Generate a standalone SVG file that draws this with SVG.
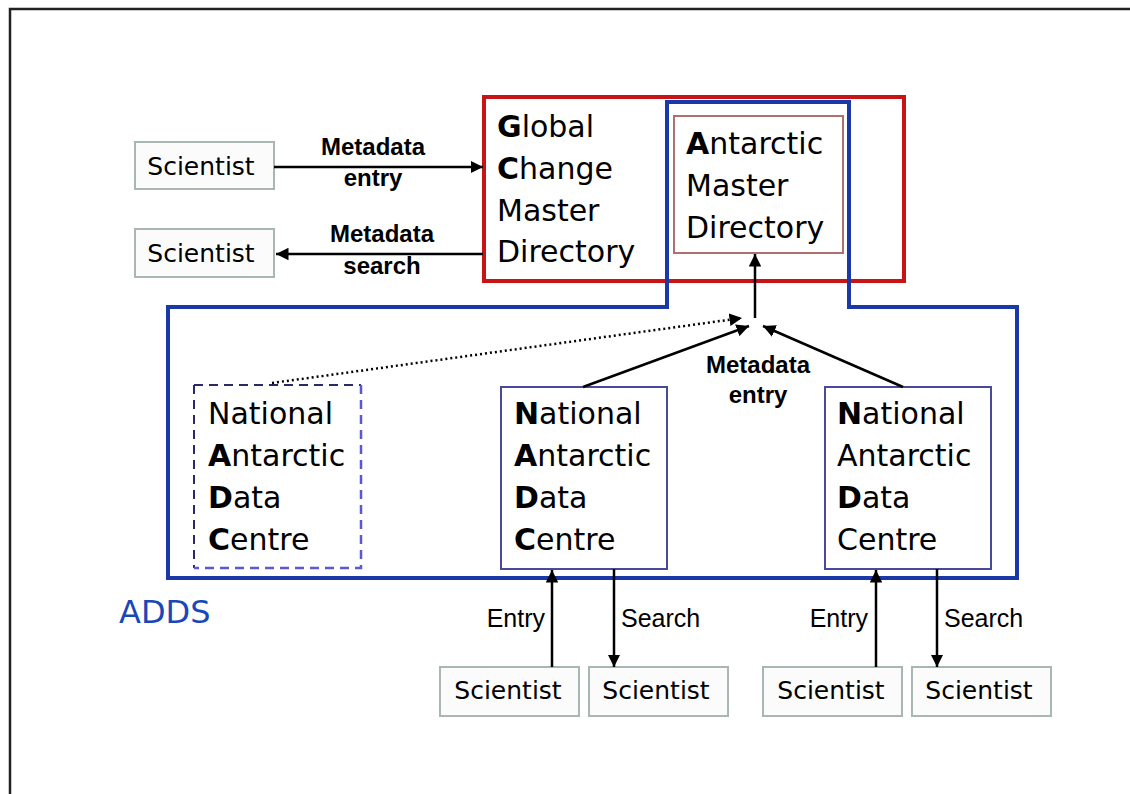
<svg xmlns="http://www.w3.org/2000/svg" width="1130" height="794" viewBox="0 0 1130 794">
<style>
.big{font-family:"DejaVu Sans","Liberation Sans",sans-serif;font-size:30px;fill:#000}
.sci{font-family:"DejaVu Sans","Liberation Sans",sans-serif;font-size:25px;fill:#000;text-anchor:middle}
.lab{font-family:"Liberation Sans",Arial,sans-serif;font-size:24px;font-weight:bold;fill:#000;text-anchor:middle}
.lab2{font-family:"Liberation Sans",Arial,sans-serif;font-size:25px;fill:#000}
.sbox{fill:#fbfbfb;stroke:#a8b8b0;stroke-width:2}
.nadc{fill:#fff;stroke:#4a4a9a;stroke-width:2}
.ln{stroke:#000;stroke-width:2.5;fill:none}
</style>
<defs>
<marker id="ah" viewBox="0 0 10 10" refX="10" refY="5" markerWidth="5" markerHeight="5" orient="auto" markerUnits="strokeWidth">
<path d="M0,0 L10,5 L0,10 z" fill="#000"/>
</marker>
</defs>
<rect width="1130" height="794" fill="#fff"/>
<rect x="10" y="9" width="1140" height="800" fill="none" stroke="#222" stroke-width="2.5"/>

<g id="gcmd">
<rect x="484" y="97" width="420" height="184" fill="none" stroke="#c81414" stroke-width="4"/>
<text class="big" x="497" y="137"><tspan font-weight="bold">G</tspan>lobal</text>
<text class="big" x="497" y="179"><tspan font-weight="bold">C</tspan>hange</text>
<text class="big" x="497" y="221">Master</text>
<text class="big" x="497" y="262">Directory</text>
</g>

<g id="adds">
<path d="M667,102 H849 V307 H1017 V578 H168 V307 H667 Z" fill="none" stroke="#1a38a6" stroke-width="4"/>
<text x="119" y="623" font-family="DejaVu Sans, Liberation Sans, sans-serif" font-size="32" fill="#1848b8">ADDS</text>
</g>

<g id="amd">
<rect x="674" y="116" width="169" height="137" fill="#fff" stroke="#b07070" stroke-width="2"/>
<text class="big" x="686" y="154"><tspan font-weight="bold">A</tspan>ntarctic</text>
<text class="big" x="686" y="196">Master</text>
<text class="big" x="686" y="238">Directory</text>
</g>

<g id="nadc1">
<path d="M194,385 H361" fill="none" stroke="#2a2a6a" stroke-width="2" stroke-dasharray="9 6"/>
<path d="M194,385 V568" fill="none" stroke="#2a2a6a" stroke-width="2" stroke-dasharray="9 6"/>
<path d="M361,385 V568 H194" fill="none" stroke="#5a5ad0" stroke-width="2.5" stroke-dasharray="9 6"/>
<text class="big" x="208" y="424">National</text>
<text class="big" x="208" y="466"><tspan font-weight="bold">A</tspan>ntarctic</text>
<text class="big" x="208" y="508"><tspan font-weight="bold">D</tspan>ata</text>
<text class="big" x="208" y="550"><tspan font-weight="bold">C</tspan>entre</text>
</g>

<g id="nadc2">
<rect class="nadc" x="501" y="387" width="166" height="182"/>
<text class="big" x="514" y="424"><tspan font-weight="bold">N</tspan>ational</text>
<text class="big" x="514" y="466"><tspan font-weight="bold">A</tspan>ntarctic</text>
<text class="big" x="514" y="508"><tspan font-weight="bold">D</tspan>ata</text>
<text class="big" x="514" y="550"><tspan font-weight="bold">C</tspan>entre</text>
</g>

<g id="nadc3">
<rect class="nadc" x="825" y="387" width="166" height="182"/>
<text class="big" x="837" y="424"><tspan font-weight="bold">N</tspan>ational</text>
<text class="big" x="837" y="466">Antarctic</text>
<text class="big" x="837" y="508"><tspan font-weight="bold">D</tspan>ata</text>
<text class="big" x="837" y="550">Centre</text>
</g>

<g id="sci1"><rect class="sbox" x="135" y="142" width="139" height="47"/><text class="sci" x="201" y="175">Scientist</text></g>
<g id="sci2"><rect class="sbox" x="135" y="229" width="139" height="48"/><text class="sci" x="201" y="262">Scientist</text></g>
<g id="sci3"><rect class="sbox" x="440" y="667" width="139" height="49"/><text class="sci" x="508" y="699">Scientist</text></g>
<g id="sci4"><rect class="sbox" x="589" y="667" width="139" height="49"/><text class="sci" x="656" y="699">Scientist</text></g>
<g id="sci5"><rect class="sbox" x="763" y="667" width="139" height="49"/><text class="sci" x="831" y="699">Scientist</text></g>
<g id="sci6"><rect class="sbox" x="912" y="667" width="139" height="49"/><text class="sci" x="979" y="699">Scientist</text></g>

<g id="connectors">
<line class="ln" x1="274" y1="167" x2="483" y2="167" marker-end="url(#ah)"/>
<line class="ln" x1="483" y1="254" x2="276" y2="254" marker-end="url(#ah)"/>
<line class="ln" x1="755" y1="318" x2="755" y2="254" marker-end="url(#ah)"/>
<line x1="272" y1="383" x2="742" y2="318" stroke="#000" stroke-width="2.5" stroke-dasharray="2 3" marker-end="url(#ah)"/>
<line class="ln" x1="583" y1="387" x2="749" y2="326" marker-end="url(#ah)"/>
<line class="ln" x1="903" y1="387" x2="763" y2="326" marker-end="url(#ah)"/>
<line class="ln" x1="552" y1="667" x2="552" y2="570" marker-end="url(#ah)"/>
<line class="ln" x1="614" y1="569" x2="614" y2="667" marker-end="url(#ah)"/>
<line class="ln" x1="876" y1="667" x2="876" y2="570" marker-end="url(#ah)"/>
<line class="ln" x1="937" y1="569" x2="937" y2="667" marker-end="url(#ah)"/>
<text class="lab" x="373" y="155">Metadata</text>
<text class="lab" x="373" y="186">entry</text>
<text class="lab" x="382" y="242">Metadata</text>
<text class="lab" x="382" y="274">search</text>
<text class="lab" x="758" y="373">Metadata</text>
<text class="lab" x="758" y="403">entry</text>
<text class="lab2" x="545" y="627" text-anchor="end">Entry</text>
<text class="lab2" x="621" y="627">Search</text>
<text class="lab2" x="868" y="627" text-anchor="end">Entry</text>
<text class="lab2" x="944" y="627">Search</text>
</g>
</svg>
